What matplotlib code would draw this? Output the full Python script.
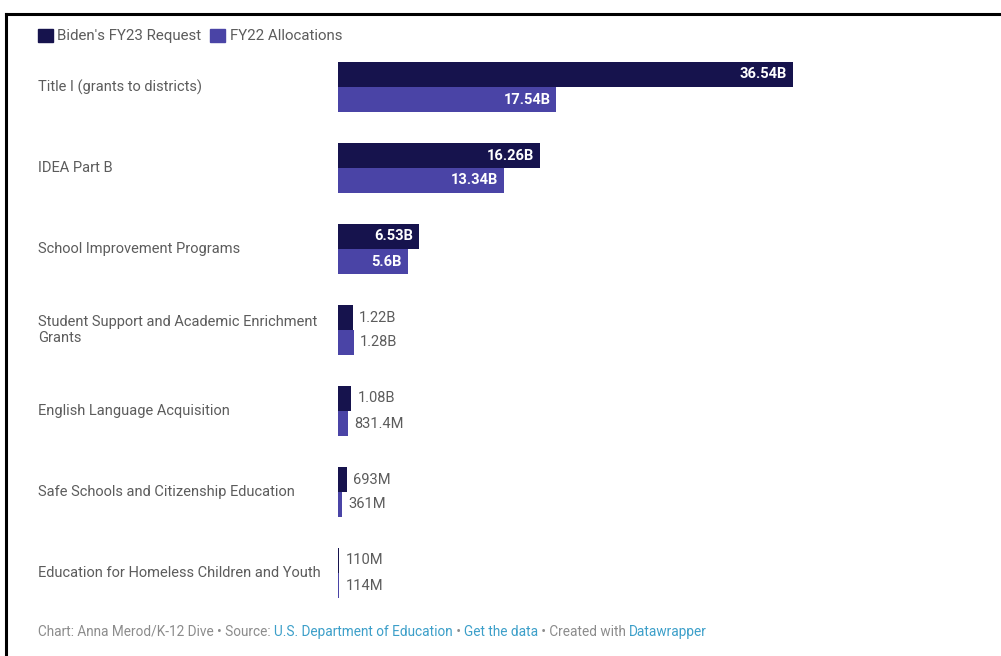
import matplotlib
matplotlib.use("Agg")
import matplotlib.pyplot as plt
import matplotlib.transforms as mtransforms
from matplotlib.patches import Patch
from matplotlib.lines import Line2D
from matplotlib.text import Annotation

plt.rcParams['font.family'] = ['Roboto', 'DejaVu Sans']

# data (billions of dollars)
programs = [
    "Title I (grants to districts)",
    "IDEA Part B",
    "School Improvement Programs",
    "Student Support and Academic Enrichment\nGrants",
    "English Language Acquisition",
    "Safe Schools and Citizenship Education",
    "Education for Homeless Children and Youth",
]
fy23_request = [36.54, 16.26, 6.53, 1.22, 1.08, 0.693, 0.110]
fy22_alloc = [17.54, 13.34, 5.6, 1.28, 0.8314, 0.361, 0.114]
fy23_labels = ["36.54B", "16.26B", "6.53B", "1.22B", "1.08B", "693M", "110M"]
fy22_labels = ["17.54B", "13.34B", "5.6B", "1.28B", "831.4M", "361M", "114M"]
series_names = ["Biden's FY23 Request", "FY22 Allocations"]

dark = "#16134d"
light = "#4a44a6"
text_gray = "#5c5c5c"

W, H = 1001, 656
fig = plt.figure(figsize=(W / 100, H / 100), dpi=100)

# bar area: zero at x=338px, group centres at 87 + 81*i px from top
ax_left, ax_right, ax_top, ax_bot = 338, 990, 40, 620
ax = fig.add_axes([ax_left / W, 1 - ax_bot / H, (ax_right - ax_left) / W, (ax_bot - ax_top) / H])
px_per_b = (793 - 338) / 36.54
ax.set_xlim(0, (ax_right - ax_left) / px_per_b)
ax.set_ylim((ax_bot - 87) / 81, (ax_top - 87) / 81)
ax.axis('off')

bh = 25 / 81
ys = list(range(len(programs)))
ax.barh([y - bh / 2 for y in ys], fy23_request, height=bh, color=dark, linewidth=0)
ax.barh([y + bh / 2 for y in ys], fy22_alloc, height=bh, color=light, linewidth=0)

pad = 6 / px_per_b


def value_label(v, yy, lab):
    if v > 3:
        ax.text(v - pad, yy, lab, color="white", fontsize=10.5, fontweight='bold',
                ha='right', va='center')
    else:
        ax.text(v + pad, yy, lab, color=text_gray, fontsize=10.5,
                ha='left', va='center')


for y, v, lab in zip(ys, fy23_request, fy23_labels):
    value_label(v, y - bh / 2, lab)
for y, v, lab in zip(ys, fy22_alloc, fy22_labels):
    value_label(v, y + bh / 2, lab)

# category labels on the left
trans = mtransforms.blended_transform_factory(fig.transFigure, ax.transData)
for y, name in zip(ys, programs):
    ax.text(38 / W, y, name, transform=trans, ha='left', va='center', fontsize=10.5,
            color=text_gray, linespacing=1.25)

# legend
handles = [Patch(color=dark), Patch(color=light)]
fig.legend(handles, series_names, loc='center left', bbox_to_anchor=(24 / W, 1 - 36 / H),
           ncol=2, frameon=False, handlelength=1.0, handleheight=1.0, handletextpad=0.3,
           columnspacing=0.6, prop={'size': 10.8}, labelcolor=text_gray)

# footer, pieces chained one after another
parts = [
    ("Chart: Anna Merod/K-12 Dive \u2022 Source: ", "#8c8c8c"),
    ("U.S. Department of Education", "#3c9fc9"),
    (" \u2022 ", "#8c8c8c"),
    ("Get the data", "#3c9fc9"),
    (" \u2022 Created with ", "#8c8c8c"),
    ("Datawrapper", "#3c9fc9"),
]
base = fig.text(38 / W, 1 - 636 / H, parts[0][0], color=parts[0][1], fontsize=9.8,
                va='baseline')
for txt, col in parts[1:]:
    base = fig.add_artist(Annotation(txt, xy=(1, 0), xycoords=base, va='bottom', ha='left',
                                     color=col, fontsize=9.8))

# frame lines (top and left)
fig.add_artist(Line2D([6 / W, 1], [1 - 14 / H, 1 - 14 / H], transform=fig.transFigure,
                      color='black', linewidth=2.2))
fig.add_artist(Line2D([6 / W, 6 / W], [0, 1 - 14 / H], transform=fig.transFigure,
                      color='black', linewidth=2.2))

fig.savefig("out.png", dpi=100, facecolor='white')
